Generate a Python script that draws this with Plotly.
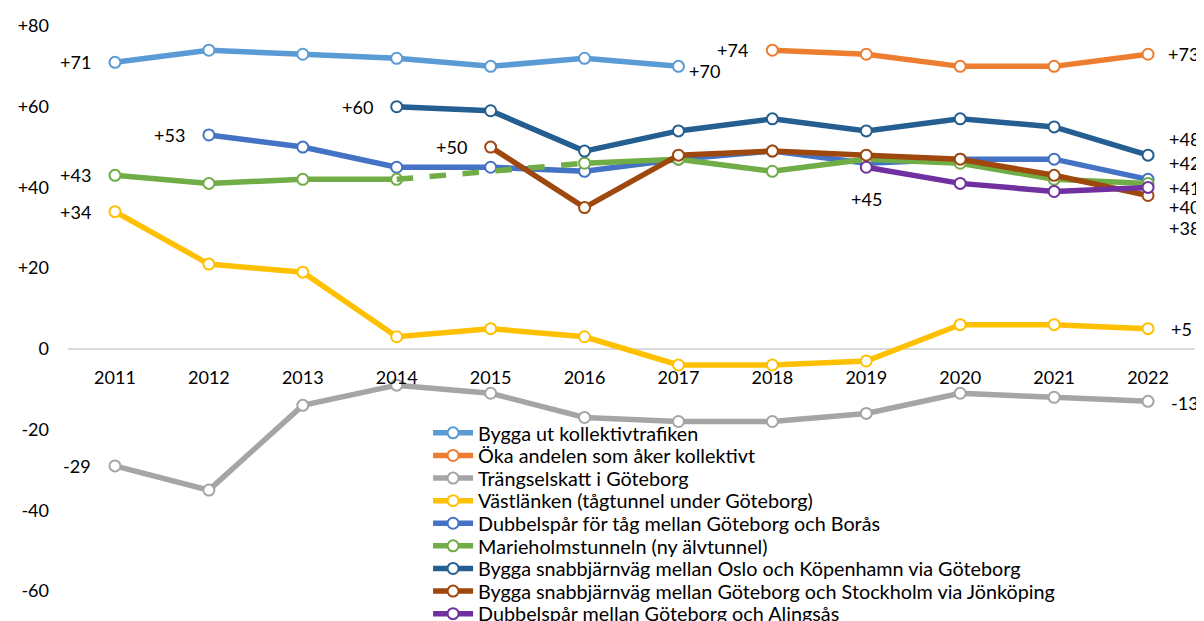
import plotly.graph_objects as go

years = [2011, 2012, 2013, 2014, 2015, 2016, 2017, 2018, 2019, 2020, 2021, 2022]

kollektivtrafik = [71, 74, 73, 72, 70, 72, 70, None, None, None, None, None]
oka_andelen = [None, None, None, None, None, None, None, 74, 73, 70, 70, 73]
trangselskatt = [-29, -35, -14, -9, -11, -17, -18, -18, -16, -11, -12, -13]
vastlanken = [34, 21, 19, 3, 5, 3, -4, -4, -3, 6, 6, 5]
dubbelspar_boras = [None, 53, 50, 45, 45, 44, 47, 49, 46, 47, 47, 42]
marieholm = [43, 41, 42, 42, None, 46, 47, 44, 47, 46, 42, 41]
oslo_kpnhmn = [None, None, None, 60, 59, 49, 54, 57, 54, 57, 55, 48]
gbg_sthlm = [None, None, None, None, 50, 35, 48, 49, 48, 47, 43, 38]
alingsas = [None, None, None, None, None, None, None, None, 45, 41, 39, 40]

series_names = [
    "Bygga ut kollektivtrafiken",
    "Öka andelen som åker kollektivt",
    "Trängselskatt i Göteborg",
    "Västlänken (tågtunnel under Göteborg)",
    "Dubbelspår för tåg mellan Göteborg och Borås",
    "Marieholmstunneln (ny älvtunnel)",
    "Bygga snabbjärnväg mellan Oslo och Köpenhamn via Göteborg",
    "Bygga snabbjärnväg mellan Göteborg och Stockholm via Jönköping",
    "Dubbelspår mellan Göteborg och Alingsås",
]
series_values = [kollektivtrafik, oka_andelen, trangselskatt, vastlanken,
                 dubbelspar_boras, marieholm, oslo_kpnhmn, gbg_sthlm, alingsas]

y_tickvals = [80, 60, 40, 20, 0, -20, -40, -60]
y_ticktext = ["+80", "+60", "+40", "+20", "0", "-20", "-40", "-60"]

# ---- styling ----
colors = ["#5B9BD5", "#ED7D31", "#A5A5A5", "#FFC000", "#4472C4",
          "#70AD47", "#255E91", "#9E480E", "#7030A0"]
FONT = "Lato"
FS = 18
LEG_FS = 19.8

FIG_W, FIG_H = 1196, 613
M_L, M_R, M_T, M_B = 60, 9, 18, 30
PLOT_H = FIG_H - M_T - M_B

# legend rows: first row centre (px from figure top) and row pitch
LEG_TOP_PX = 425
LEG_PITCH = 22.6
LEG_X = 0.3195

# label placement: series index -> list of (point index, xanchor, xshift, yshift)
label_specs = {
    0: [(0, "right", -22, 0), (6, "left", 9, -5)],
    1: [(7, "right", -22, 0), (11, "left", 18, 0)],
    2: [(0, "right", -22, 0), (11, "left", 21, -2)],
    3: [(0, "right", -22, 0), (11, "left", 21, 0)],
    4: [(1, "right", -22, 0), (11, "left", 19, 16)],
    5: [(0, "right", -22, 0), (11, "left", 19, -5)],
    6: [(3, "right", -22, 0), (11, "left", 19, 16)],
    7: [(4, "right", -22, 0), (11, "left", 19, -32)],
    8: [(8, "center", 0, -32), (11, "left", 19, -20)],
}

fig = go.Figure()
legend_layouts = {}

for i, (name, vals) in enumerate(zip(series_names, series_values)):
    leg_id = "legend" if i == 0 else f"legend{i + 1}"
    fig.add_trace(go.Scatter(
        x=years, y=vals, name=name, mode="lines+markers",
        line=dict(color=colors[i], width=5.5),
        marker=dict(size=11, color="white", line=dict(color=colors[i], width=2)),
        connectgaps=False, legend=leg_id,
    ))
    # dashed bridge across interior gaps
    idx = [k for k, v in enumerate(vals) if v is not None]
    for a, b in zip(idx[:-1], idx[1:]):
        if b - a > 1:
            fig.add_trace(go.Scatter(
                x=[years[a], years[b]], y=[vals[a], vals[b]], mode="lines",
                line=dict(color=colors[i], width=5.5, dash="dash"),
                showlegend=False, hoverinfo="skip",
            ))
    row_px = LEG_TOP_PX + i * LEG_PITCH
    legend_layouts[leg_id] = dict(
        x=LEG_X, y=1 - (row_px - M_T) / PLOT_H, xanchor="left", yanchor="middle",
        bgcolor="rgba(0,0,0,0)", borderwidth=0,
        font=dict(family=FONT, size=LEG_FS, color="#000000"),
        itemwidth=40,
    )

annotations = []
for si, specs in label_specs.items():
    vals = series_values[si]
    for (pi, xa, xs, ys) in specs:
        v = vals[pi]
        txt = "0" if v == 0 else f"{v:+d}"
        annotations.append(dict(
            x=years[pi], y=v, xref="x", yref="y", text=txt, showarrow=False,
            xanchor=xa, yanchor="middle", xshift=xs, yshift=ys,
            font=dict(family=FONT, size=FS, color="#000000"),
        ))

y_min, y_max = -60, 80

# the page body adds an 8px offset, so the figure is 8px smaller than the window
fig.update_layout(
    width=FIG_W, height=FIG_H,
    margin=dict(l=M_L, r=M_R, t=M_T, b=M_B, autoexpand=False),
    paper_bgcolor="white", plot_bgcolor="white",
    font=dict(family=FONT, size=FS, color="#000000"),
    showlegend=True,
    annotations=annotations,
    xaxis=dict(
        range=[2010.5, 2022.5], tickvals=years, ticktext=[str(y) for y in years],
        showgrid=False, zeroline=False, showline=False, ticks="",
        anchor="free", position=(0 - y_min) / (y_max - y_min),
        ticklabelstandoff=16,
        tickfont=dict(family=FONT, size=FS, color="#000000"),
    ),
    yaxis=dict(
        range=[y_min, y_max], tickvals=y_tickvals, ticktext=y_ticktext,
        showgrid=False, zeroline=True, zerolinecolor="#D9D9D9", zerolinewidth=2,
        showline=False, ticks="", ticklabelstandoff=18,
        tickfont=dict(family=FONT, size=FS, color="#000000"),
    ),
)
fig.update_layout(**legend_layouts)

fig.write_html("out.html")
